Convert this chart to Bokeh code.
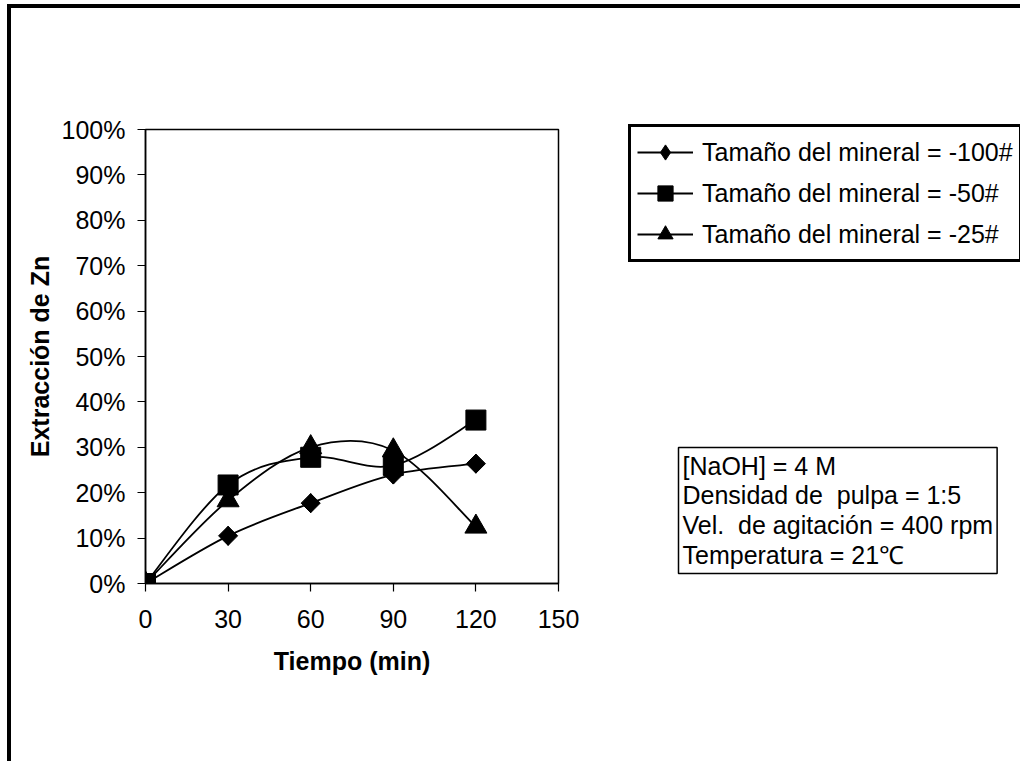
import numpy as np
from bokeh.plotting import figure
from bokeh.models import Range1d, FixedTicker, NumeralTickFormatter, Legend, LegendItem, Label
from bokeh.embed import file_html
from bokeh.resources import INLINE

# ---- data ----
tiempo = [0, 30, 60, 90, 120]
ext_100 = [0.0, 0.105, 0.177, 0.240, 0.264]
ext_50 = [0.0, 0.217, 0.278, 0.260, 0.360]
ext_25 = [0.0, 0.183, 0.300, 0.293, 0.125]
series_names = ["Tamaño del mineral = -100#",
                "Tamaño del mineral = -50#",
                "Tamaño del mineral = -25#"]
x_ticks = [0, 30, 60, 90, 120, 150]
y_ticks = [0.0, 0.1, 0.2, 0.3, 0.4, 0.5, 0.6, 0.7, 0.8, 0.9, 1.0]
note_lines = ["[NaOH] = 4 M",
              "Densidad de\u00a0 pulpa = 1:5",
              "Vel.\u00a0 de agitación = 400 rpm",
              "Temperatura = 21\u2103"]

FONT = "Liberation Sans"
FS = "25px"


def smooth_segments(x, y):
    """Excel-like smoothed line: cubic Bezier segments through the points."""
    x = np.asarray(x, float)
    y = np.asarray(y, float)
    xp = np.concatenate([[x[0]], x, [x[-1]]])
    yp = np.concatenate([[y[0]], y, [y[-1]]])
    segs = dict(x0=[], y0=[], x1=[], y1=[], cx0=[], cy0=[], cx1=[], cy1=[])
    for i in range(len(x) - 1):
        a, b, c, d = i, i + 1, i + 2, i + 3
        segs["x0"].append(xp[b]); segs["y0"].append(yp[b])
        segs["x1"].append(xp[c]); segs["y1"].append(yp[c])
        segs["cx0"].append(xp[b] + (xp[c] - xp[a]) / 6.0)
        segs["cy0"].append(yp[b] + (yp[c] - yp[a]) / 6.0)
        segs["cx1"].append(xp[c] - (xp[d] - xp[b]) / 6.0)
        segs["cy1"].append(yp[c] - (yp[d] - yp[b]) / 6.0)
    return segs


p = figure(output_backend="svg", toolbar_location=None,
           frame_width=413, frame_height=454,
           min_border_left=134, min_border_top=121,
           min_border_right=440, min_border_bottom=178,
           x_range=Range1d(0, 150), y_range=Range1d(0, 1))
p.styles = {"border-top": "4px solid black", "border-left": "4px solid black",
            "margin-top": "4px", "margin-left": "7px"}

p.grid.visible = False
p.outline_line_color = "black"
p.outline_line_width = 1.5
p.background_fill_color = "white"
p.border_fill_color = "white"

for ax in (p.xaxis[0], p.yaxis[0]):
    ax.axis_line_color = "black"
    ax.axis_line_width = 1.5
    ax.major_tick_line_color = "black"
    ax.major_tick_line_width = 1.2
    ax.major_tick_in = 0
    ax.major_tick_out = 8
    ax.minor_tick_line_color = None
    ax.major_label_text_font = FONT
    ax.major_label_text_font_size = FS
    ax.major_label_text_color = "black"
    ax.axis_label_text_font = FONT
    ax.axis_label_text_font_size = FS
    ax.axis_label_text_font_style = "bold"
    ax.axis_label_text_color = "black"

p.xaxis.ticker = FixedTicker(ticks=x_ticks)
p.yaxis.ticker = FixedTicker(ticks=y_ticks)
p.yaxis.formatter = NumeralTickFormatter(format="0%")
p.xaxis.axis_label = "Tiempo (min)"
p.yaxis.axis_label = "Extracción de Zn"
p.xaxis.major_label_standoff = 18
p.yaxis.major_label_standoff = 12
p.xaxis.axis_label_standoff = 16
p.yaxis.axis_label_standoff = 5

items = []
# series 1: diamond (rotated square on top of a Bokeh diamond used in the legend)
seg1 = smooth_segments(tiempo, ext_100)
l1 = p.bezier(x0="x0", y0="y0", x1="x1", y1="y1", cx0="cx0", cy0="cy0",
              cx1="cx1", cy1="cy1", source=seg1, line_color="black", line_width=1.8)
d1 = p.scatter(tiempo, ext_100, marker="diamond", size=19,
               fill_color="black", line_color="black")
p.scatter(tiempo, ext_100, marker="square", size=13.5, angle=np.pi / 4,
          fill_color="black", line_color="black")
items.append(LegendItem(label=series_names[0], renderers=[l1, d1]))

# series 2: squares
seg2 = smooth_segments(tiempo, ext_50)
l2 = p.bezier(x0="x0", y0="y0", x1="x1", y1="y1", cx0="cx0", cy0="cy0",
              cx1="cx1", cy1="cy1", source=seg2, line_color="black", line_width=1.8)
s2 = p.scatter(tiempo, ext_50, marker="square", size=20,
               fill_color="black", line_color="black")
items.append(LegendItem(label=series_names[1], renderers=[l2, s2]))

# series 3: triangles
seg3 = smooth_segments(tiempo, ext_25)
l3 = p.bezier(x0="x0", y0="y0", x1="x1", y1="y1", cx0="cx0", cy0="cy0",
              cx1="cx1", cy1="cy1", source=seg3, line_color="black", line_width=1.8)
t3 = p.scatter(tiempo, ext_25, marker="triangle", size=22,
               fill_color="black", line_color="black")
items.append(LegendItem(label=series_names[2], renderers=[l3, t3]))

legend = Legend(items=items, location=(70, 321),
                border_line_color="black", border_line_width=3, border_line_alpha=1,
                background_fill_color="white", background_fill_alpha=1,
                padding=6, margin=0, spacing=3,
                glyph_width=56, glyph_height=38, label_height=38,
                label_standoff=9,
                label_text_font=FONT, label_text_font_size=FS,
                label_text_color="black")
p.add_layout(legend, "right")

note = Label(x=663, y=435, x_units="canvas", y_units="canvas",
             anchor="top_left", text="\n".join(note_lines),
             text_font=FONT, text_font_size=FS, text_color="black",
             text_line_height=1.07,
             border_line_color="black", border_line_width=1.5, border_line_alpha=1,
             background_fill_color="white", padding=4)
p.add_layout(note, "right")

open("out.html", "w").write(file_html(p, INLINE))
